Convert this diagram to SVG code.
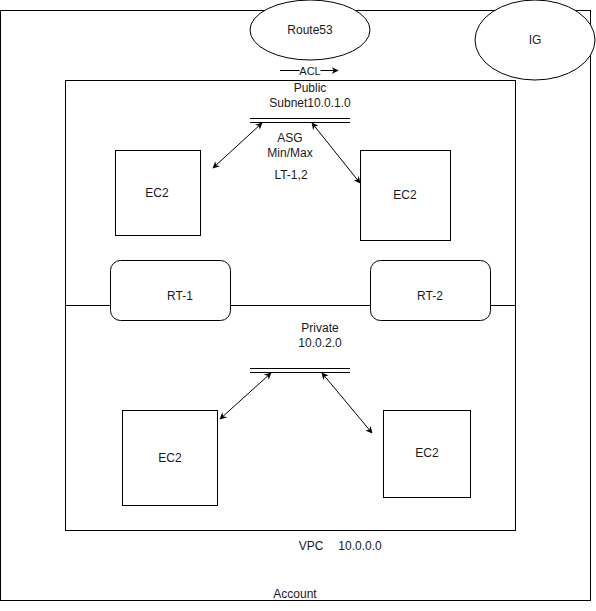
<svg xmlns="http://www.w3.org/2000/svg" width="596" height="611" viewBox="0 0 596 611">
<defs>
<marker id="ah" viewBox="0 0 10 10" refX="9" refY="5" markerWidth="7" markerHeight="7" orient="auto-start-reverse" markerUnits="userSpaceOnUse">
<path d="M0,0 L10,5 L0,10 L3,5 Z" fill="#000"/>
</marker>
</defs>
<style>
.box{fill:#fff;stroke:#000;stroke-width:1}
.frame{fill:none;stroke:#000;stroke-width:1}
.t{font-family:"Liberation Sans",Arial,sans-serif;font-size:12px;fill:#1a1a1a;text-anchor:middle}
.c{stroke:#000;stroke-width:1;fill:none}
</style>
<rect width="596" height="611" fill="#fff"/>
<g id="account">
<rect class="frame" x="0.5" y="10.5" width="590" height="590"/>
<text class="t" x="295" y="598">Account</text>
</g>
<g id="vpc">
<rect class="frame" x="65.5" y="80.5" width="450" height="450"/>
<text class="t" x="311" y="550">VPC</text>
<text class="t" x="360" y="550">10.0.0.0</text>
</g>
<g id="subnet-divider">
<line class="c" x1="65" y1="305.5" x2="515" y2="305.5"/>
</g>
<g id="public-label">
<text class="t" x="310" y="92">Public</text>
<text class="t" x="310" y="107">Subnet10.0.1.0</text>
</g>
<g id="asg">
<line class="c" x1="250" y1="118.5" x2="350" y2="118.5"/>
<line class="c" x1="250" y1="122.5" x2="350" y2="122.5"/>
<text class="t" x="290" y="142">ASG</text>
<text class="t" x="290" y="157">Min/Max</text>
<text class="t" x="291" y="179">LT-1,2</text>
</g>
<g id="private-label">
<text class="t" x="320" y="332">Private</text>
<text class="t" x="320" y="347">10.0.2.0</text>
</g>
<g id="private-bus">
<line class="c" x1="250" y1="368.5" x2="350" y2="368.5"/>
<line class="c" x1="250" y1="372.5" x2="350" y2="372.5"/>
</g>
<g id="rt-1">
<rect class="box" x="110.5" y="260.5" width="120" height="60" rx="10" ry="10"/>
<text class="t" x="180" y="300">RT-1</text>
</g>
<g id="rt-2">
<rect class="box" x="370.5" y="260.5" width="120" height="60" rx="10" ry="10"/>
<text class="t" x="430" y="300">RT-2</text>
</g>
<g id="ec2-pub-1">
<rect class="box" x="115.5" y="150.5" width="85" height="85"/>
<text class="t" x="157" y="197">EC2</text>
</g>
<g id="ec2-pub-2">
<rect class="box" x="360.5" y="150.5" width="90" height="90"/>
<text class="t" x="405" y="199">EC2</text>
</g>
<g id="ec2-priv-1">
<rect class="box" x="122.5" y="410.5" width="95" height="95"/>
<text class="t" x="170" y="462">EC2</text>
</g>
<g id="ec2-priv-2">
<rect class="box" x="383.5" y="410.5" width="87" height="87"/>
<text class="t" x="427" y="457">EC2</text>
</g>
<g id="route53">
<ellipse class="box" cx="310" cy="30" rx="60" ry="30"/>
<text class="t" x="310" y="34">Route53</text>
</g>
<g id="ig">
<ellipse class="box" cx="535" cy="40" rx="60" ry="40"/>
<text class="t" x="535" y="44">IG</text>
</g>
<g id="connectors">
<line class="c" x1="280" y1="70.5" x2="338" y2="70.5" marker-end="url(#ah)"/>
<rect x="299.5" y="64" width="21" height="12" fill="#fff"/>
<text class="t" x="310" y="75" style="font-size:11px">ACL</text>
<line class="c" x1="213" y1="168" x2="262" y2="123" marker-start="url(#ah)" marker-end="url(#ah)"/>
<line class="c" x1="312" y1="123" x2="360" y2="183" marker-start="url(#ah)" marker-end="url(#ah)"/>
<line class="c" x1="220" y1="419" x2="271" y2="373" marker-start="url(#ah)" marker-end="url(#ah)"/>
<line class="c" x1="322" y1="373" x2="372" y2="433" marker-start="url(#ah)" marker-end="url(#ah)"/>
</g>
</svg>
